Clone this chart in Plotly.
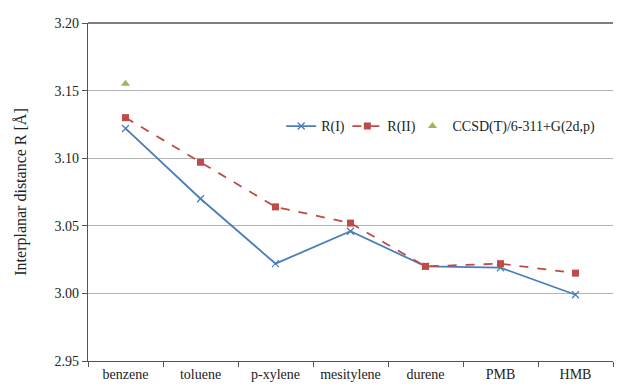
import plotly.graph_objects as go

molecules = ["benzene", "toluene", "p-xylene", "mesitylene", "durene", "PMB", "HMB"]
r_one = [3.122, 3.070, 3.022, 3.046, 3.020, 3.019, 2.999]
r_two = [3.130, 3.097, 3.064, 3.052, 3.020, 3.022, 3.015]
ccsd_labels = ["benzene"]
ccsd_values = [3.155]
y_ticks = [2.95, 3.00, 3.05, 3.10, 3.15, 3.20]

FONT = "'Liberation Serif', 'Times New Roman', serif"
BLUE = "#4A7EBB"
RED = "#BE4B48"
GREEN = "#98B954"
TEXT = "#222"

fig = go.Figure()
fig.add_trace(go.Scatter(
    x=molecules, y=r_one, name="R(I)", mode="lines+markers", legend="legend",
    line=dict(color=BLUE, width=1.8),
    marker=dict(symbol="x-thin", size=7, line=dict(color=BLUE, width=1.3)),
))
fig.add_trace(go.Scatter(
    x=molecules, y=r_two, name="R(II)", mode="lines+markers", legend="legend2",
    line=dict(color=RED, width=1.8, dash="dash"),
    marker=dict(symbol="square", size=7, color=RED),
))
fig.add_trace(go.Scatter(
    x=ccsd_labels, y=ccsd_values, name="CCSD(T)/6-311+G(2d,p)", mode="markers",
    legend="legend3",
    marker=dict(symbol="triangle-up", size=8, color=GREEN),
))

legend_style = dict(
    orientation="h", y=0.694, xanchor="left", yanchor="middle",
    bgcolor="rgba(0,0,0,0)", font=dict(family=FONT, size=14, color=TEXT),
    itemwidth=30,
)

fig.update_layout(
    width=621, height=390,
    margin=dict(l=88, r=8, t=23, b=27),
    paper_bgcolor="white", plot_bgcolor="white",
    font=dict(family=FONT, size=14, color=TEXT),
    showlegend=True,
    legend=dict(x=0.368, **legend_style),
    legend2=dict(x=0.494, **legend_style),
    legend3=dict(x=0.618, **legend_style),
)
fig.update_xaxes(
    type="category", categoryorder="array", categoryarray=molecules,
    range=[-0.5, len(molecules) - 0.5],
    showline=True, linecolor="#555", linewidth=1.3,
    ticks="outside", tickson="boundaries", ticklen=5, tickcolor="#555",
    showgrid=False, tickfont=dict(family=FONT, size=14, color=TEXT),
)
fig.update_yaxes(
    range=[2.95, 3.20], tickvals=y_ticks, tickformat=".2f",
    showline=True, linecolor="#555", linewidth=1.3,
    ticks="outside", ticklen=5, tickcolor="#555",
    showgrid=True, gridcolor="#B4B4B4", gridwidth=1.2, zeroline=False,
    tickfont=dict(family=FONT, size=14, color=TEXT),
    title=dict(text="Interplanar distance R [Å]", font=dict(family=FONT, size=16, color=TEXT), standoff=23),
)
# top frame line of the plot area
fig.add_shape(type="line", xref="paper", yref="paper", x0=0, x1=1, y0=1, y1=1,
              line=dict(color="#555", width=1.3))

fig.write_html("out.html")
